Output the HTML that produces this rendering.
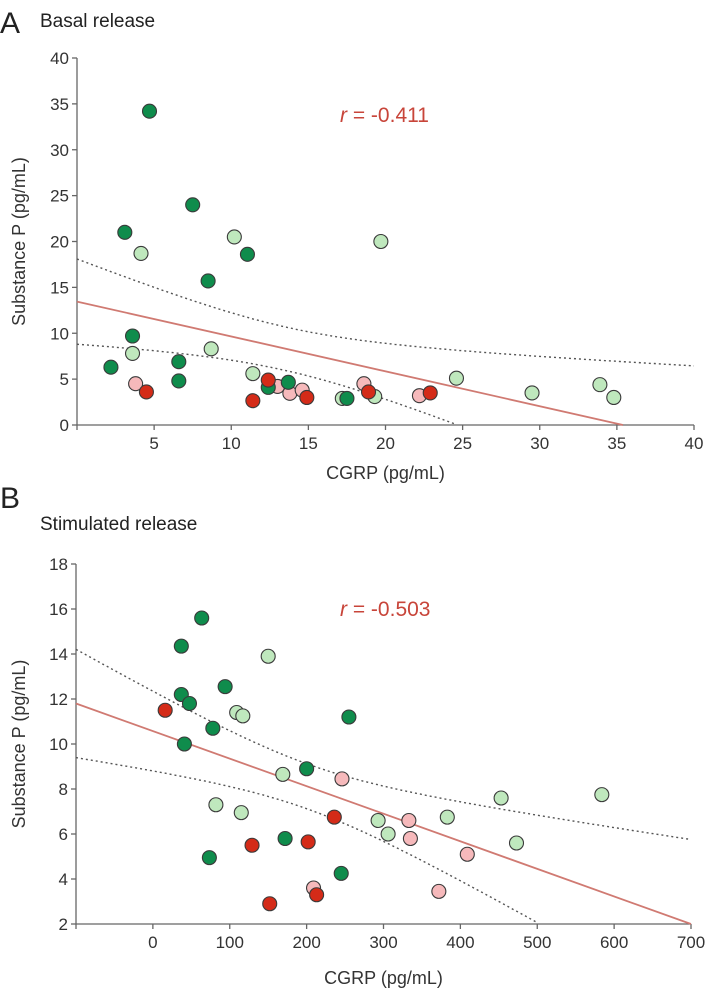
<!DOCTYPE html>
<html><head><meta charset="utf-8"><style>
html,body{margin:0;padding:0;background:#fff;}
svg{display:block;font-family:"Liberation Sans",Arial,sans-serif;}
</style></head><body>
<svg id="fig" width="708" height="991" viewBox="0 0 708 991">
<text x="0" y="33" font-size="30" fill="#222">A</text>
<text x="40" y="27" font-size="19" fill="#222">Basal release</text>
<text x="0" y="508" font-size="30" fill="#222">B</text>
<text x="40" y="530" font-size="19" fill="#222">Stimulated release</text>
<g id="pa"></g>
<g id="pb"></g>
</svg>
<script>
// Panel A data
const aDarkX=[4.7,7.5,3.1,11.05,8.5,3.6,6.6,2.2,6.6,13.7,12.4,17.5];
const aDarkY=[34.2,24,21,18.6,15.7,9.7,6.9,6.3,4.8,4.65,4.1,2.9];
const aLightX=[4.15,10.2,19.7,3.6,8.7,11.4,24.6,17.2,19.3,29.5,33.9,34.8];
const aLightY=[18.7,20.5,20,7.8,8.3,5.6,5.1,2.9,3.1,3.5,4.4,3.0];
const aPinkX=[3.8,13,13.8,14.6,18.6,22.2];
const aPinkY=[4.5,4.2,3.45,3.8,4.5,3.2];
const aRedX=[4.5,11.4,12.4,14.9,18.9,22.9];
const aRedY=[3.6,2.65,4.9,3.0,3.6,3.5];
const aFit=[13.45,-0.38]; // intercept, slope
const aCI=[13.5,2.37,0.296]; // mean x, c, k
const aXTicks=[5,10,15,20,25,30,35,40];
const aYTicks=[0,5,10,15,20,25,30,35,40];
// Panel B data
const bDarkX=[63.5,37,37,94,47.6,78,41,255,200,172,73.5,245];
const bDarkY=[15.6,14.35,12.2,12.55,11.8,10.7,10.0,11.2,8.9,5.8,4.95,4.25];
const bLightX=[150,109,117,169,82,115,293,306,383,453,584,473];
const bLightY=[13.9,11.4,11.25,8.65,7.3,6.95,6.6,6.0,6.75,7.6,7.75,5.6];
const bPinkX=[246,333,335,409,209,372];
const bPinkY=[8.45,6.6,5.8,5.1,3.6,3.45];
const bRedX=[16,236,129,202,213,152];
const bRedY=[11.5,6.75,5.5,5.65,3.3,2.9];
const bFit=[10.575,-0.01225];
const bCI=[201.5,1.0,0.00726];
const bXTicks=[0,100,200,300,400,500,600,700];
const bYTicks=[2,4,6,8,10,12,14,16,18];

const NS="http://www.w3.org/2000/svg";
function mk(p,t,a){const e=document.createElementNS(NS,t);for(const k in a)e.setAttribute(k,a[k]);p.appendChild(e);return e;}

function panel(g,cfg){
  const sx=v=>cfg.px0+(v-cfg.xmin)/(cfg.xmax-cfg.xmin)*(cfg.px1-cfg.px0);
  const sy=v=>cfg.py0-(v-cfg.ymin)/(cfg.ymax-cfg.ymin)*(cfg.py0-cfg.py1);
  let e=mk(g,'line',{x1:cfg.px0,y1:cfg.py1,x2:cfg.px0,y2:cfg.py0,stroke:'#666','stroke-width':1.3});
  
  
  e=mk(g,'line',{x1:cfg.px0,y1:cfg.py0,x2:cfg.px1,y2:cfg.py0,stroke:'#666','stroke-width':1.3});
  
  
  cfg.yt.forEach(v=>{
    mk(g,'line',{x1:cfg.px0-5,y1:sy(v),x2:cfg.px0,y2:sy(v),stroke:'#666','stroke-width':1.3});
    const t=mk(g,'text',{x:cfg.px0-8,y:sy(v)+6,'font-size':17,fill:'#333','text-anchor':'end'});
    t.textContent=v;
    
    
  });
  cfg.xt.forEach(v=>{
    mk(g,'line',{x1:sx(v),y1:cfg.py0,x2:sx(v),y2:cfg.py0+5,stroke:'#666','stroke-width':1.3});
    const t=mk(g,'text',{x:sx(v),y:cfg.py0+24,'font-size':17,fill:'#333','text-anchor':'middle'});
    t.textContent=v;
    
    
  });
  mk(g,'line',{x1:cfg.px0,y1:cfg.py0,x2:cfg.px0,y2:cfg.py0+5,stroke:'#666','stroke-width':1.3});
  // CI bands
  const fit=x=>cfg.fit[0]+cfg.fit[1]*x;
  const hw=x=>Math.sqrt(cfg.ci[1]*cfg.ci[1]+cfg.ci[2]*cfg.ci[2]*(x-cfg.ci[0])*(x-cfg.ci[0]));
  [1,-1].forEach(s=>{
    let d='';
    for(let i=0;i<=200;i++){const x=cfg.xmin+(cfg.xmax-cfg.xmin)*i/200;const y=fit(x)+s*hw(x);if(y<cfg.ymin)break;d+=(d?'L':'M')+sx(x).toFixed(1)+','+sy(y).toFixed(1);}
    const p=mk(g,'path',{d:d,fill:'none',stroke:'#555','stroke-width':1.4,'stroke-dasharray':'2,3'});
    
    
  });
  const xe=Math.min(cfg.xmax,(cfg.ymin-cfg.fit[0])/cfg.fit[1]);
  const rl=mk(g,'line',{x1:sx(cfg.xmin),y1:sy(fit(cfg.xmin)),x2:sx(xe),y2:sy(fit(xe)),stroke:'#d07a72','stroke-width':1.8});
  
  
  const series=[[cfg.lx,cfg.ly,'#bfe8bd','light-green-point'],[cfg.px,cfg.pyv,'#f6b9bb','pink-point'],[cfg.dx,cfg.dy,'#0f8c4c','dark-green-point'],[cfg.rx,cfg.ry,'#d42b18','red-point']];
  series.forEach(s=>{
    s[0].forEach((x,i)=>{
      const c=mk(g,'circle',{cx:sx(x),cy:sy(s[1][i]),r:7,fill:s[2],stroke:'#3a3a3a','stroke-width':1.1});
      
      
    });
  });
  const r=mk(g,'text',{x:cfg.rX,y:cfg.rY,'font-size':21,fill:'#c8453a'});
  r.innerHTML='<tspan font-style="italic">r</tspan> = '+cfg.r;
  
  
  const yl=mk(g,'text',{x:0,y:0,'font-size':18,fill:'#333','text-anchor':'middle',transform:`translate(25,${(cfg.py0+cfg.py1)/2}) rotate(-90)`});
  yl.textContent='Substance P (pg/mL)';
  
  
  const xl=mk(g,'text',{x:(cfg.px0+cfg.px1)/2,y:cfg.xtY,'font-size':18,fill:'#333','text-anchor':'middle'});
  xl.textContent='CGRP (pg/mL)';
  
  
}
panel(document.getElementById('pa'),{px0:77,px1:694,py0:425,py1:58,xmin:0,xmax:40,ymin:0,ymax:40,xt:aXTicks,yt:aYTicks,
 dx:aDarkX,dy:aDarkY,lx:aLightX,ly:aLightY,px:aPinkX,pyv:aPinkY,rx:aRedX,ry:aRedY,fit:aFit,ci:aCI,r:'-0.411',rX:340,rY:122,xtY:479});
panel(document.getElementById('pb'),{px0:76,px1:691,py0:924,py1:564,xmin:-100,xmax:700,ymin:2,ymax:18,xt:bXTicks,yt:bYTicks,
 dx:bDarkX,dy:bDarkY,lx:bLightX,ly:bLightY,px:bPinkX,pyv:bPinkY,rx:bRedX,ry:bRedY,fit:bFit,ci:bCI,r:'-0.503',rX:340,rY:616,xtY:984});
</script>
</body></html>
